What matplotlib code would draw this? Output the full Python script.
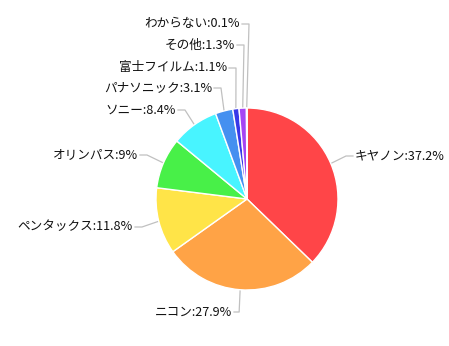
import numpy as np
import matplotlib
matplotlib.use("Agg")
import matplotlib.pyplot as plt

plt.rcParams['font.family'] = ['Noto Sans CJK JP', 'DejaVu Sans']

categories = ["キヤノン", "ニコン", "ペンタックス", "オリンパス", "ソニー",
              "パナソニック", "富士フイルム", "その他", "わからない"]
values = [37.2, 27.9, 11.8, 9, 8.4, 3.1, 1.1, 1.3, 0.1]
value_labels = ["37.2%", "27.9%", "11.8%", "9%", "8.4%", "3.1%", "1.1%", "1.3%", "0.1%"]
colors = ["#FF4548", "#FFA346", "#FFE448", "#48F048", "#48F4FF",
          "#4590F0", "#3838E8", "#A545F5", "#F545A0"]

W, H = 449, 346
fig = plt.figure(figsize=(W / 100, H / 100), dpi=100)
ax = fig.add_axes([0, 0, 1, 1])
ax.set_xlim(0, W)
ax.set_ylim(0, H)
ax.set_aspect('equal')
ax.axis('off')

cx, cy, r = 247, H - 199, 91
ax.pie(values, colors=colors, startangle=90, counterclock=False,
       center=(cx, cy), radius=r, normalize=True,
       wedgeprops=dict(edgecolor='white', linewidth=1.0))
ax.set_xlim(0, W)
ax.set_ylim(0, H)

# label anchor positions (image px): (x, y, side)
label_pos = [(355, 156, 'L'), (232, 312, 'R'), (133, 227, 'R'), (138, 155, 'R'),
             (176, 110, 'R'), (212, 88, 'R'), (227, 68, 'R'), (235, 45, 'R'),
             (240, 24, 'R')]

total = sum(values)
cum = 0
for v, cat, vl, (lx, ly, side) in zip(values, categories, value_labels, label_pos):
    mid = (cum + v / 2) / total * 2 * np.pi
    cum += v
    ex = cx + r * np.sin(mid)
    ey = cy + r * np.cos(mid)
    y = H - ly
    if side == 'L':
        x0, x1, ha = lx - 2, lx - 9, 'left'
    else:
        x0, x1, ha = lx + 2, lx + 9, 'right'
    if cat == "ニコン":
        x1 = ex - 1
    ax.plot([x0, x1, ex], [y, y, ey], color='#C0C0C0', lw=0.9, zorder=0)
    ax.text(lx, y, f"{cat}:{vl}", ha=ha, va='center', fontsize=9.1, color='#111111')

fig.savefig("out.png", dpi=100)
